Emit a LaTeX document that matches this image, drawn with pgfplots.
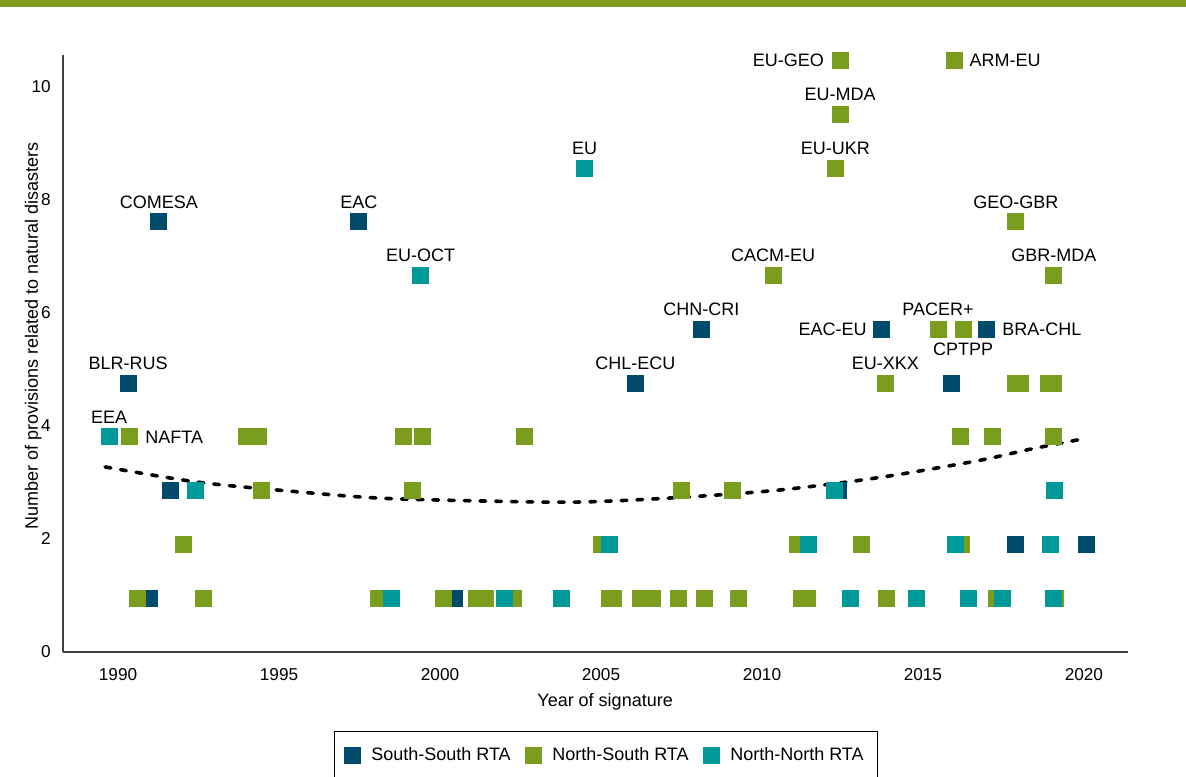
\documentclass[border=0pt]{standalone}
\usepackage{fontspec}
\setmainfont{Liberation Sans}
\usepackage{pgfplots}
\pgfplotsset{compat=1.18}
\definecolor{ssblue}{HTML}{004B6B}
\definecolor{nsgreen}{HTML}{7A9D1E}
\definecolor{nnteal}{HTML}{009999}
\definecolor{axisgray}{HTML}{404040}

\begin{document}
\begin{tikzpicture}[font=\fontsize{9}{10.8}\selectfont]
\useasboundingbox (0,0) rectangle (593pt,388pt);
\fill[nsgreen] (0,384.5pt) rectangle (593pt,388pt);
\begin{axis}[
    at={(31.5pt,62pt)}, anchor=south west,
    scale only axis, width=532.5pt, height=298.5pt,
    xmin=1988.29, xmax=2021.37, ymin=0, ymax=10.55,
    axis lines*=left,
    axis line style={-, axisgray, line width=0.8pt},
    xtick={1990,1995,...,2020}, ytick={0,2,...,10},
    major tick length=0pt,
    /pgf/number format/assume math mode=true,
    tick label style={font=\fontsize{8.6}{10}\selectfont},
    x tick label style={/pgf/number format/1000 sep={}, yshift=-4.5pt},
    y tick label style={xshift=-2.6pt},
    xlabel={Year of signature},
    ylabel={Number of provisions related to natural disasters},
    xlabel style={at={(axis description cs:0.509,-0.0838)}, anchor=center},
    ylabel style={at={(axis description cs:-0.028,0.529)}, anchor=center},
    clip=false,
    legend columns=3,
    legend style={at={(axis description cs:0.51,-0.1323)}, anchor=north,
        draw=black, line width=0.6pt, inner xsep=5pt, inner ysep=6pt,
        /tikz/every even column/.append style={column sep=5.5pt}},
    legend image code/.code={\draw[#1] plot coordinates {(4pt,0pt)}; \path (11pt,0pt);},
]
% South-South RTA
\addplot[ssblue, only marks, mark=square*, mark size=4pt,
    mark options={draw=ssblue, fill=ssblue, line width=0pt}]
coordinates {
(1991.27,7.6) (1997.48,7.6) (1990.31,4.75) (1991.64,2.85) (1990.99,0.95)
(2000.46,0.95) (2006.07,4.75) (2008.12,5.7) (2012.37,2.85) (2013.70,5.7)
(2016.96,5.7) (2015.88,4.75) (2017.89,1.9) (2020.07,1.9)
};
\addlegendentry{South-South RTA}
% North-South RTA
\addplot[nsgreen, only marks, mark=square*, mark size=4pt,
    mark options={draw=nsgreen, fill=nsgreen, line width=0pt}]
coordinates {
(1990.37,3.8) (1994.00,3.8) (1994.37,3.8) (1994.47,2.85) (1992.02,1.9)
(1990.59,0.95) (1992.64,0.95) (1998.87,3.8) (1999.46,3.8) (2002.63,3.8)
(1999.15,2.85) (2005.02,1.9) (1998.10,0.95) (2000.11,0.95) (2001.14,0.95)
(2001.42,0.95) (2002.29,0.95) (2013.83,4.75) (2007.50,2.85) (2009.08,2.85)
(2011.10,1.9) (2013.08,1.9) (2005.27,0.95) (2005.39,0.95) (2006.23,0.95)
(2006.60,0.95) (2007.41,0.95) (2008.21,0.95) (2009.27,0.95) (2011.22,0.95)
(2011.41,0.95) (2013.86,0.95) (2017.86,4.75) (2018.02,4.75) (2018.89,4.75)
(2019.07,4.75) (2016.16,3.8) (2017.15,3.8) (2019.04,3.8) (2016.19,1.9)
(2017.30,0.95) (2019.13,0.95) (2012.43,10.45) (2015.97,10.45) (2012.43,9.5)
(2012.28,8.55) (2017.89,7.6) (2019.07,6.65) (2010.35,6.65) (2015.47,5.7)
(2016.25,5.7)
};
\addlegendentry{North-South RTA}
% North-North RTA
\addplot[nnteal, only marks, mark=square*, mark size=4pt,
    mark options={draw=nnteal, fill=nnteal, line width=0pt}]
coordinates {
(1989.72,3.8) (1992.39,2.85) (1999.40,6.65) (2004.49,8.55) (1998.50,0.95)
(2002.01,0.95) (2003.78,0.95) (2012.25,2.85) (2005.27,1.9) (2011.44,1.9)
(2012.74,0.95) (2019.10,2.85) (2016.00,1.9) (2018.95,1.9) (2014.79,0.95)
(2016.43,0.95) (2017.46,0.95) (2019.04,0.95)
};
\addlegendentry{North-North RTA}
% trend
\addplot[forget plot, smooth, black, line width=1.8pt, line cap=round,
    dash pattern=on 2.85pt off 5pt]
coordinates {
(1989.6,3.27) (1992.5,3.00) (1995.6,2.83) (1998.1,2.72) (2001.2,2.67)
(2004.3,2.65) (2007.4,2.73) (2010.5,2.86) (2013.6,3.08) (2016.7,3.38)
(2018.3,3.58) (2020.1,3.78)
};
% labels
\begin{scope}[every node/.style={inner sep=0pt}]
\node[anchor=base, yshift=6.9pt] at (axis cs:1991.27,7.6) {COMESA};
\node[anchor=base, yshift=6.9pt] at (axis cs:1997.48,7.6) {EAC};
\node[anchor=base, yshift=6.9pt] at (axis cs:1999.40,6.65) {EU-OCT};
\node[anchor=base, yshift=6.9pt] at (axis cs:2004.49,8.55) {EU};
\node[anchor=base, yshift=6.9pt] at (axis cs:1990.31,4.75) {BLR-RUS};
\node[anchor=base, yshift=6.9pt] at (axis cs:1989.72,3.8) {EEA};
\node[anchor=base west, xshift=7.5pt, yshift=-3.13pt] at (axis cs:1990.37,3.8) {NAFTA};
\node[anchor=base, yshift=6.9pt] at (axis cs:2006.07,4.75) {CHL-ECU};
\node[anchor=base, yshift=6.9pt] at (axis cs:2008.12,5.7) {CHN-CRI};
\node[anchor=base, yshift=6.9pt] at (axis cs:2010.35,6.65) {CACM-EU};
\node[anchor=base east, xshift=-8pt, yshift=-3.13pt] at (axis cs:2012.43,10.45) {EU-GEO};
\node[anchor=base west, xshift=7.5pt, yshift=-3.13pt] at (axis cs:2015.97,10.45) {ARM-EU};
\node[anchor=base, yshift=6.9pt] at (axis cs:2012.43,9.5) {EU-MDA};
\node[anchor=base, yshift=6.9pt] at (axis cs:2012.28,8.55) {EU-UKR};
\node[anchor=base, yshift=6.9pt] at (axis cs:2017.89,7.6) {GEO-GBR};
\node[anchor=base, yshift=6.9pt] at (axis cs:2019.07,6.65) {GBR-MDA};
\node[anchor=base east, xshift=-7pt, yshift=-3.13pt] at (axis cs:2013.70,5.7) {EAC-EU};
\node[anchor=base, yshift=6.9pt] at (axis cs:2015.47,5.7) {PACER+};
\node[anchor=base, yshift=-13.1pt] at (axis cs:2016.25,5.7) {CPTPP};
\node[anchor=base west, xshift=8pt, yshift=-3.13pt] at (axis cs:2016.96,5.7) {BRA-CHL};
\node[anchor=base, yshift=6.9pt] at (axis cs:2013.83,4.75) {EU-XKX};
\end{scope}
\end{axis}
\end{tikzpicture}
\end{document}
